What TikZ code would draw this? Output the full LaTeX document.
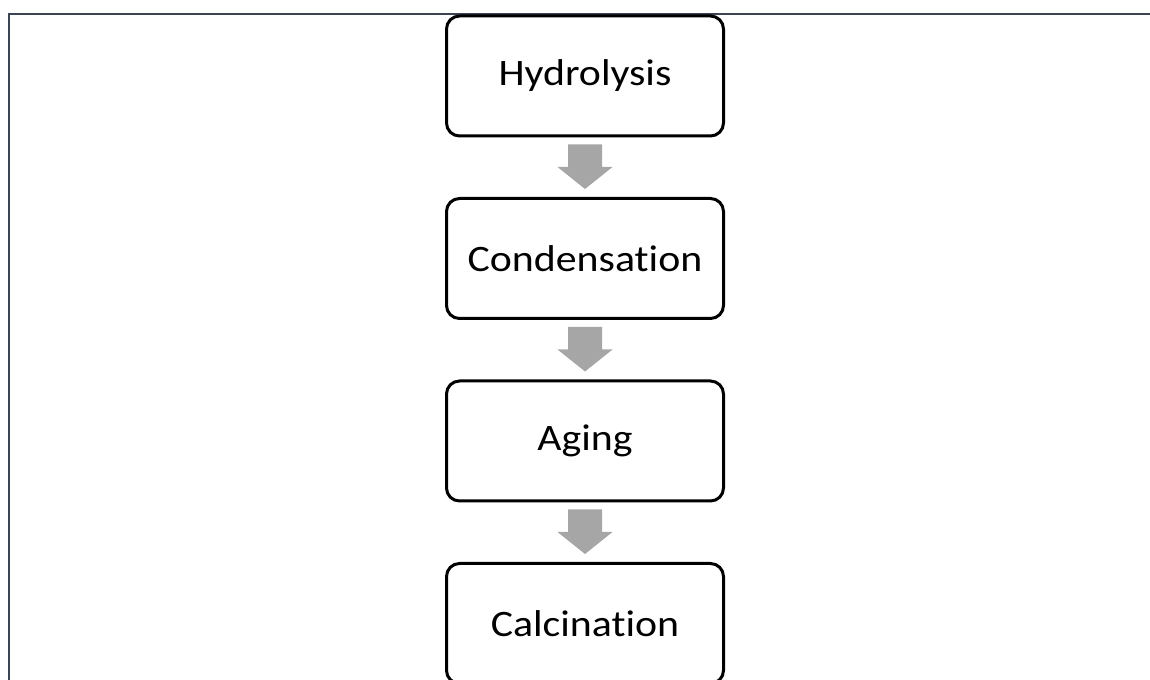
\documentclass[tikz,border=0pt]{standalone}
\usepackage{fontspec}
\setmainfont{Carlito}[Ligatures=NoCommon]
\usetikzlibrary{calc}
\definecolor{framecol}{HTML}{3B4453}
\definecolor{arrowgray}{HTML}{A6A6A6}
\newcommand{\boxtext}[1]{\scalebox{1.12}[1]{#1}}
\tikzset{
  stepbox/.style={draw=black, line width=2.25pt, fill=white, rounded corners=9.75pt,
    minimum width=207.75pt, minimum height=90pt, inner sep=0pt, font=\fontsize{28}{32}\selectfont},
  flowarrow/.style={fill=arrowgray},
}
\begin{document}
\begin{tikzpicture}[x=0.75pt,y=-0.75pt, line width=0.75pt]
\useasboundingbox (0,0) rectangle (1150,680);
\clip (0,0) rectangle (1150,680);
\draw[framecol, line width=1.5pt] (9,14) rectangle (1170,700);
\node[stepbox] (h) at (585,76) {\boxtext{Hydrolysis}};
\node[stepbox] (c) at (585,258.5) {\boxtext{Condensation}};
\node[stepbox] (g) at (585,441) {\boxtext{Aging}};
\node[stepbox] (k) at (585,623.5) {\boxtext{Calcination}};
\foreach \a/\b in {h/c,c/g,g/k}{
  \fill[flowarrow] ($(\a.south)+(-17,7)$) -- ($(\a.south)+(17,7)$)
    -- ($(\b.north)+(17,-30)$) -- ($(\b.north)+(27.5,-30)$)
    -- ($(\b.north)+(0,-8)$) -- ($(\b.north)+(-27.5,-30)$)
    -- ($(\b.north)+(-17,-30)$) -- cycle;
}
\end{tikzpicture}
\end{document}
